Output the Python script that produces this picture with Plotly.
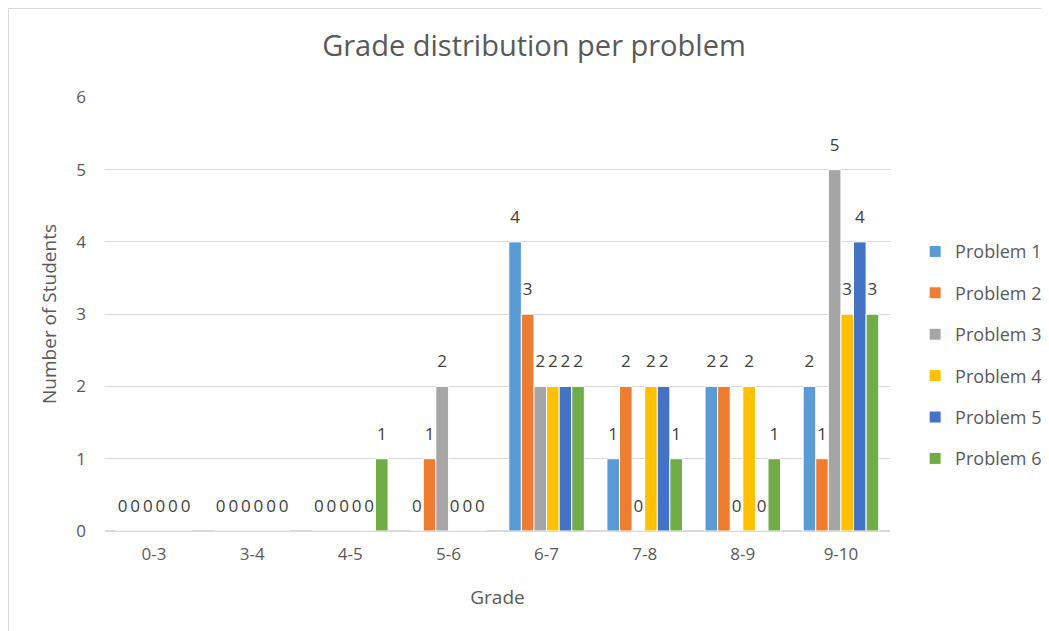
import plotly.graph_objects as go

categories = ["0-3", "3-4", "4-5", "5-6", "6-7", "7-8", "8-9", "9-10"]
series_names = ["Problem 1", "Problem 2", "Problem 3", "Problem 4", "Problem 5", "Problem 6"]
problem1 = [0, 0, 0, 0, 4, 1, 2, 2]
problem2 = [0, 0, 0, 1, 3, 2, 2, 1]
problem3 = [0, 0, 0, 2, 2, 0, 0, 5]
problem4 = [0, 0, 0, 0, 2, 2, 2, 3]
problem5 = [0, 0, 0, 0, 2, 2, 0, 4]
problem6 = [0, 0, 1, 0, 2, 1, 1, 3]
y_ticks = [0, 1, 2, 3, 4, 5, 6]

colors = ["#5B9BD5", "#ED7D31", "#A5A5A5", "#FFC000", "#4472C4", "#70AD47"]
values = [problem1, problem2, problem3, problem4, problem5, problem6]

FONT = "Open Sans, Lato, sans-serif"
TXT = "#595959"

fig = go.Figure()
for i, (name, vals, col) in enumerate(zip(series_names, values, colors)):
    fig.add_trace(go.Bar(
        x=categories, y=vals, name=name, legendgroup=f"g{i}",
        marker=dict(color=col, line=dict(color="white", width=1)),
        offsetgroup=f"o{i}",
    ))
# data labels, offset like the grouped bars
for i, (name, vals) in enumerate(zip(series_names, values)):
    fig.add_trace(go.Scatter(
        x=categories, y=vals, name=name, legendgroup=f"g{i}", showlegend=False,
        mode="markers+text", offsetgroup=f"o{i}",
        marker=dict(size=22, color="rgba(0,0,0,0)"),
        text=[str(v) for v in vals], textposition="top center",
        textfont=dict(size=17, color="#404040", family=FONT),
        cliponaxis=False, hoverinfo="skip",
    ))

fig.update_layout(
    width=1049, height=631,
    barmode="group", bargap=0.23, bargroupgap=0,
    scattermode="group", scattergap=0.23,
    paper_bgcolor="white", plot_bgcolor="white",
    margin=dict(l=97, r=167, t=89, b=108, autoexpand=False),
    title=dict(text="Grade distribution per problem", x=0.5014, xanchor="center",
               xref="container", y=0.94, yref="container", yanchor="middle",
               font=dict(size=29, color=TXT, family=FONT)),
    font=dict(family=FONT, color=TXT, size=17),
    legend=dict(x=1.032, y=0.405, xanchor="left", yanchor="middle",
                font=dict(size=18, color=TXT), tracegroupgap=15,
                itemwidth=30),
    shapes=[dict(type="rect", xref="paper", yref="paper",
                 x0=-0.1229, x1=1.5, y0=-0.5, y1=1.2039,
                 line=dict(color="#D9D9D9", width=1), fillcolor="rgba(0,0,0,0)")],
)
fig.update_xaxes(title=dict(text="Grade", font=dict(size=19, color=TXT), standoff=26),
                 showline=True, linecolor="#D9D9D9", linewidth=1, layer="above traces",
                 tickfont=dict(size=17, color=TXT), ticks="", showgrid=False,
                 ticklabelstandoff=8)
fig.update_yaxes(title=dict(text="Number of Students", font=dict(size=19, color=TXT), standoff=14),
                 range=[0, 6.005], tickvals=y_ticks, showgrid=True, gridcolor="#D9D9D9",
                 gridwidth=1, zeroline=True, zerolinecolor="#D9D9D9",
                 tickfont=dict(size=17, color=TXT), ticks="", ticklabelstandoff=18)

fig.write_html("out.html")
